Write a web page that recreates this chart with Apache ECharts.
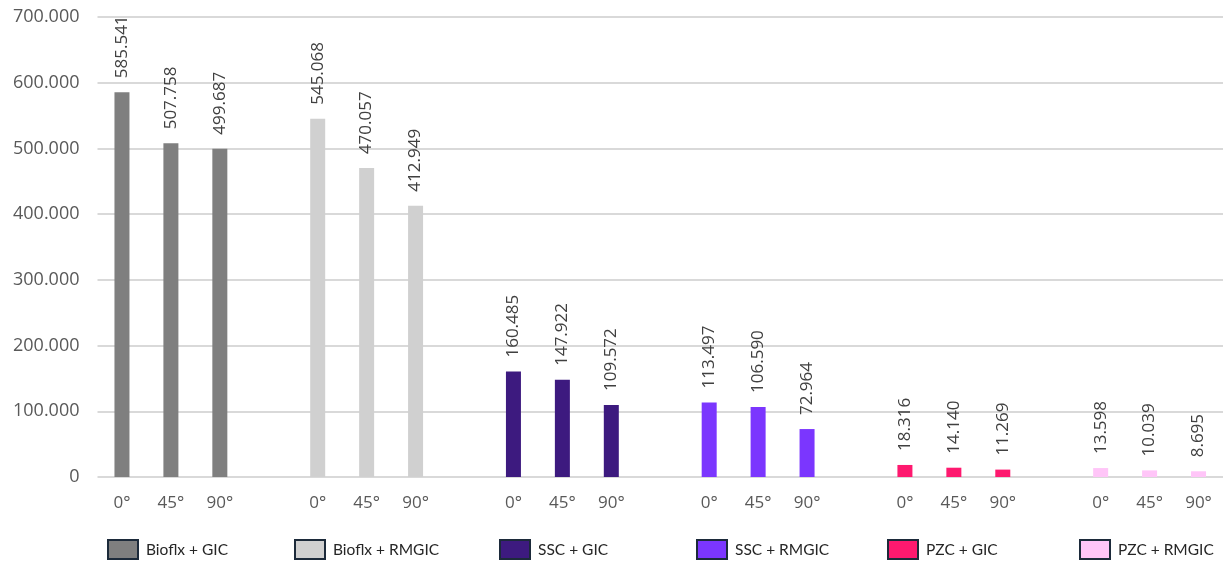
<!DOCTYPE html>
<html>
<head>
<meta charset="utf-8">
<script src="https://cdn.jsdelivr.net/npm/echarts@6/dist/echarts.min.js"></script>
<style>
  html, body { margin: 0; padding: 0; background: #ffffff; }
  #chart { width: 1223px; height: 562px; }
</style>
</head>
<body>
<div id="chart"></div>
<script>
// Angles measured within each material pair
const angles = ['0°', '45°', '90°'];

// Material combinations, in drawing order
const groups = ['Bioflx + GIC', 'Bioflx + RMGIC', 'SSC + GIC', 'SSC + RMGIC', 'PZC + GIC', 'PZC + RMGIC'];

// Values per combination at 0°, 45°, 90°
const bioflxGic   = [585541, 507758, 499687];
const bioflxRmgic = [545068, 470057, 412949];
const sscGic      = [160485, 147922, 109572];
const sscRmgic    = [113497, 106590, 72964];
const pzcGic      = [18316, 14140, 11269];
const pzcRmgic    = [13598, 10039, 8695];

const groupValues = [bioflxGic, bioflxRmgic, sscGic, sscRmgic, pzcGic, pzcRmgic];
const colors = ['#7f7f7f', '#d0d0d0', '#3d1a7f', '#7b36fe', '#fe196f', '#ffc5f8'];

// y-axis ticks
const yMax = 700000;
const yStep = 100000;

// Thousands separated with a dot
function fmt(v) {
  return String(Math.round(v)).replace(/\B(?=(\d{3})+(?!\d))/g, '.');
}

// Category slots: three angles per group, plus an empty spacer between groups
const categories = [];
groups.forEach((g, gi) => {
  angles.forEach(a => categories.push(a));
  if (gi < groups.length - 1) categories.push('');
});

const series = groups.map((name, gi) => {
  const data = categories.map(() => null);
  groupValues[gi].forEach((v, ai) => { data[gi * 4 + ai] = v; });
  return {
    name: name,
    type: 'bar',
    data: data,
    barWidth: 15,
    barGap: '-100%',
    itemStyle: { color: colors[gi] },
    label: {
      show: true,
      position: 'top',
      rotate: 90,
      align: 'left',
      verticalAlign: 'middle',
      distance: 14,
      color: '#404040',
      fontFamily: 'Open Sans',
      fontSize: 17,
      formatter: p => fmt(p.value)
    }
  };
});

const legendLefts = [107, 294, 499, 696, 887, 1079];
const legends = groups.map((name, gi) => ({
  data: [name],
  left: legendLefts[gi],
  top: 539,
  padding: 0,
  itemWidth: 30,
  itemHeight: 19,
  icon: 'rect',
  itemStyle: { borderColor: '#1c2a3a', borderWidth: 2 },
  textStyle: { color: '#262626', fontFamily: 'Lato', fontSize: 15.5, padding: [0, 0, 0, 3] },
  selectedMode: false
}));

const chart = echarts.init(document.getElementById('chart'), null, { renderer: 'canvas' });
chart.setOption({
  animation: false,
  backgroundColor: '#ffffff',
  legend: legends,
  grid: { left: 97.5, right: -1.5, top: 17, bottom: 85, containLabel: false },
  xAxis: {
    type: 'category',
    data: categories,
    axisLine: { show: false },
    axisTick: { show: false },
    axisLabel: {
      interval: 0,
      margin: 18,
      color: '#595959',
      fontFamily: 'Open Sans',
      fontSize: 17
    }
  },
  yAxis: {
    type: 'value',
    min: 0,
    max: yMax,
    interval: yStep,
    axisLine: { show: false },
    axisTick: { show: false },
    splitLine: { lineStyle: { color: '#d9d9d9', width: 2 } },
    axisLabel: {
      margin: 18,
      color: '#595959',
      fontFamily: 'Open Sans',
      fontSize: 18,
      formatter: v => fmt(v)
    }
  },
  series: series
});
</script>
</body>
</html>
